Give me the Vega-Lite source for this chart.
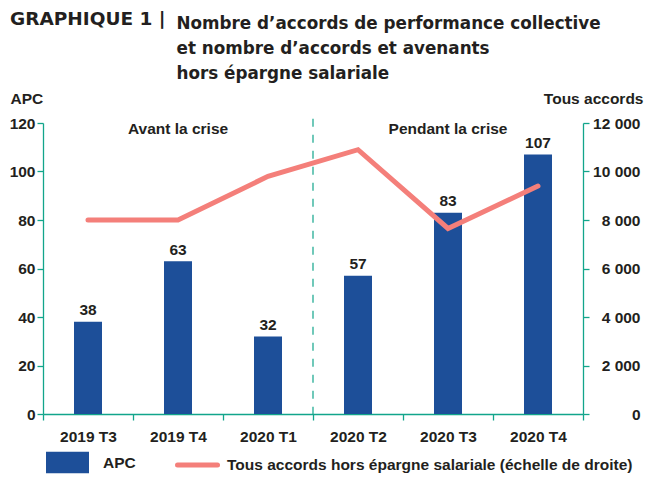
{
  "$schema": "https://vega.github.io/schema/vega-lite/v6.json",
  "width": 540,
  "height": 291,
  "autosize": {"type": "none"},
  "padding": {"left": 43, "top": 123, "right": 81, "bottom": 65},
  "background": "white",
  "title": {
    "text": "GRAPHIQUE 1 |",
    "anchor": "start",
    "frame": "group",
    "dx": -33,
    "offset": -28,
    "font": "DejaVu Sans",
    "fontSize": 18.5,
    "fontWeight": "bold",
    "color": "#231f20",
    "baseline": "alphabetic"
  },
  "config": {
    "view": {"stroke": null},
    "axis": {
      "grid": false,
      "labelFont": "Liberation Sans",
      "labelFontSize": 15.5,
      "labelFontWeight": "bold",
      "labelColor": "#231f20",
      "domainColor": "#12a58b",
      "domainWidth": 1.3,
      "tickColor": "#12a58b",
      "tickWidth": 1.3,
      "tickSize": 6,
      "titleFont": "Liberation Sans",
      "titleFontSize": 15.5,
      "titleFontWeight": "bold",
      "titleColor": "#231f20"
    },
    "legend": {
      "labelFont": "Liberation Sans",
      "labelFontSize": 15.5,
      "labelFontWeight": "bold",
      "labelColor": "#231f20",
      "labelLimit": 0,
      "padding": 0
    }
  },
  "data": {
    "values": [
      {"q": "2019 T3", "apc": 38, "tous": 8000},
      {"q": "2019 T4", "apc": 63, "tous": 8000},
      {"q": "2020 T1", "apc": 32, "tous": 9800},
      {"q": "2020 T2", "apc": 57, "tous": 10900},
      {"q": "2020 T3", "apc": 83, "tous": 7650},
      {"q": "2020 T4", "apc": 107, "tous": 9400}
    ]
  },
  "layer": [
    {
      "layer": [
        {
          "mark": {"type": "bar", "size": 28},
          "encoding": {
            "x": {
              "field": "q",
              "type": "nominal",
              "sort": null,
              "scale": {"paddingInner": 0, "paddingOuter": 0},
              "axis": {
                "labelAngle": 0,
                "labelPadding": 9,
                "tickBand": "extent",
                "title": ["Nombre d’accords de performance collective", "et nombre d’accords et avenants", "hors épargne salariale"],
                "titleX": 133,
                "titleY": -398.5,
                "titleAlign": "left",
                "titleAngle": 0,
                "titleBaseline": "top",
                "titleFont": "DejaVu Sans",
                "titleFontSize": 16.8,
                "titleLineHeight": 25
              }
            },
            "y": {
              "field": "apc",
              "type": "quantitative",
              "scale": {"domain": [0, 120]},
              "axis": {
                "orient": "left",
                "values": [0, 20, 40, 60, 80, 100, 120],
                "labelPadding": 2,
                "title": "APC",
                "titleAngle": 0,
                "titleX": -33,
                "titleY": -20,
                "titleAlign": "left",
                "titleBaseline": "alphabetic"
              }
            },
            "fill": {
              "datum": "APC",
              "type": "nominal",
              "scale": {"range": ["#1d4f99"]},
              "legend": {
                "orient": "none",
                "legendX": 3,
                "legendY": 318,
                "title": null,
                "symbolType": "M-1,-0.5H1V0.5H-1Z",
                "symbolSize": 1849,
                "symbolStrokeWidth": 0,
                "labelOffset": 14
              }
            }
          }
        },
        {
          "mark": {"type": "text", "baseline": "alphabetic", "dy": -6.5, "font": "Liberation Sans", "fontSize": 15.5, "fontWeight": "bold", "color": "#231f20"},
          "encoding": {
            "x": {"field": "q", "type": "nominal", "sort": null},
            "y": {"field": "apc", "type": "quantitative"},
            "text": {"field": "apc", "type": "quantitative"}
          }
        },
        {
          "data": {"values": [{"q": "2020 T2"}]},
          "mark": {"type": "rule", "color": "#12a58b", "strokeWidth": 1.2, "strokeDash": [8, 8]},
          "encoding": {
            "x": {"field": "q", "type": "nominal", "bandPosition": 0},
            "y": {"datum": 121.8, "type": "quantitative"},
            "y2": {"datum": 0}
          }
        },
        {
          "data": {"values": [{"q": "2019 T4", "label": "Avant la crise"}, {"q": "2020 T3", "label": "Pendant la crise"}]},
          "mark": {"type": "text", "baseline": "alphabetic", "font": "Liberation Sans", "fontSize": 15.5, "fontWeight": "bold", "color": "#231f20"},
          "encoding": {
            "x": {"field": "q", "type": "nominal"},
            "y": {"datum": 115.6, "type": "quantitative"},
            "text": {"field": "label", "type": "nominal"}
          }
        }
      ]
    },
    {
      "mark": {"type": "line", "color": "#f47f7a", "strokeWidth": 5, "strokeCap": "round"},
      "encoding": {
        "x": {"field": "q", "type": "nominal", "sort": null},
        "y": {
          "field": "tous",
          "type": "quantitative",
          "scale": {"domain": [0, 12000]},
          "axis": {
            "orient": "right",
            "values": [0, 2000, 4000, 6000, 8000, 10000, 12000],
            "labelExpr": "replace(format(datum.value, ','), ',', ' ')",
            "labelAlign": "right",
            "labelPadding": 51,
            "title": "Tous accords",
            "titleAngle": 0,
            "titleX": 60,
            "titleY": -20,
            "titleAlign": "right",
            "titleBaseline": "alphabetic"
          }
        },
        "stroke": {
          "datum": "Tous accords hors épargne salariale (échelle de droite)",
          "type": "nominal",
          "scale": {"range": ["#f47f7a"]},
          "legend": {
            "orient": "none",
            "legendX": 132,
            "legendY": 319.5,
            "title": null,
            "symbolType": "stroke",
            "symbolSize": 1600,
            "symbolStrokeWidth": 5,
            "labelOffset": 7,
            "labelLimit": 0,
            "encode": {"symbols": {"update": {"strokeCap": {"value": "round"}}}}
          }
        }
      }
    }
  ],
  "resolve": {"scale": {"y": "independent", "fill": "independent", "stroke": "independent"}}
}
